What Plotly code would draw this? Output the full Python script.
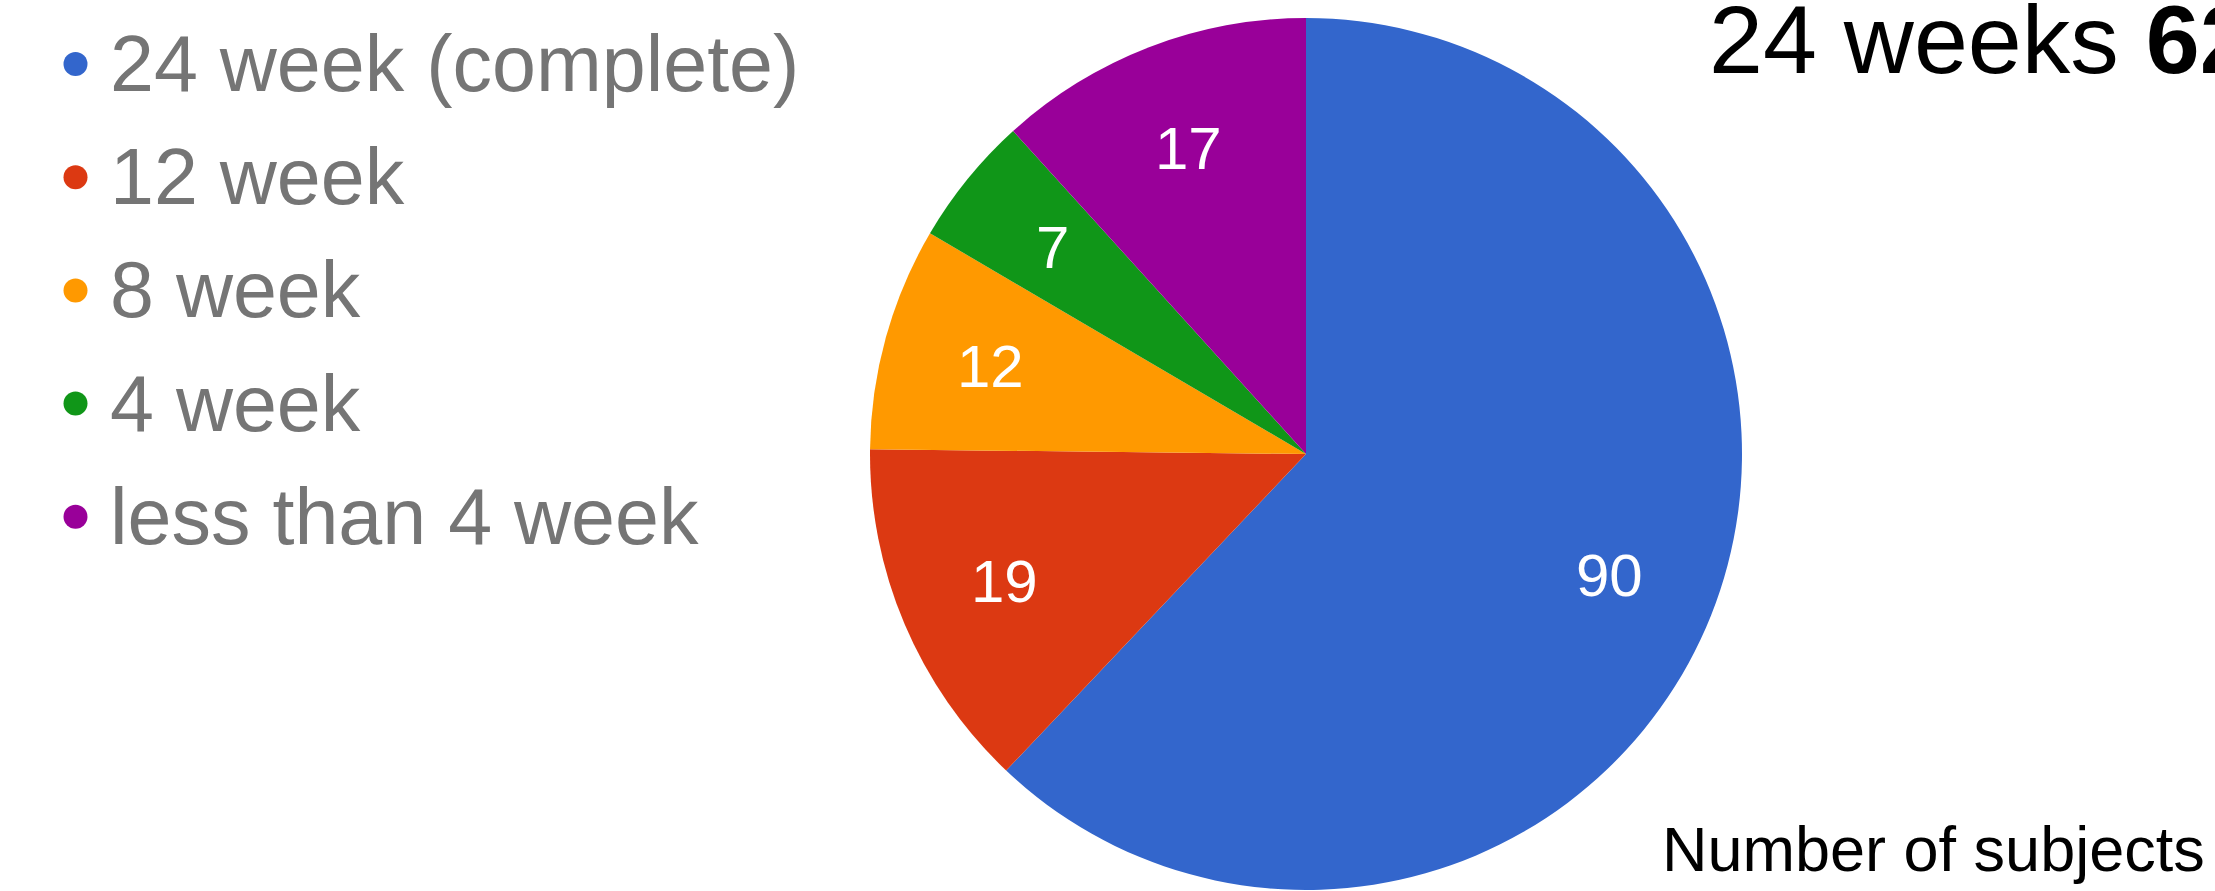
import math
import plotly.graph_objects as go

# Completion status of study subjects
labels = ["24 week (complete)", "12 week", "8 week", "4 week", "less than 4 week"]
counts = [90, 19, 12, 7, 17]
colors = ["#3366CC", "#DC3912", "#FF9900", "#109618", "#990099"]

W, H = 2215, 891
FONT = "Arial, 'Liberation Sans', sans-serif"


def px_x(x):
    return x / W


def px_y(y):
    return 1 - y / H


total = sum(counts)
share_complete = round(100 * counts[0] / total)

fig = go.Figure()

# Pie, clockwise from 12 o'clock, centred at (1306, 454) px with a 436 px radius
cx, cy, r = 1306, 454, 436
fig.add_trace(go.Pie(
    labels=labels,
    values=counts,
    sort=False,
    direction="clockwise",
    rotation=0,
    marker=dict(colors=colors, line=dict(width=0)),
    textinfo="none",
    showlegend=False,
    hoverinfo="label+value+percent",
    domain=dict(x=[px_x(cx - r), px_x(cx + r)], y=[px_y(cy + r), px_y(cy - r)]),
))

annotations = []
shapes = []

# Slice values, placed at each slice's mid-angle, 3/4 of the way out
start = 0.0
for v in counts:
    mid = (start + v / 2) / total * 2 * math.pi
    start += v
    lx = cx + 0.75 * r * math.sin(mid)
    ly = cy - 0.75 * r * math.cos(mid)
    annotations.append(dict(
        text=str(v), xref="paper", yref="paper",
        x=px_x(lx), y=px_y(ly),
        xanchor="center", yanchor="middle", showarrow=False,
        font=dict(family=FONT, size=60, color="white"),
    ))

# Legend: coloured dots and grey labels
row0_mid, row_step = 63.5, 113.2
for i, (lab, col) in enumerate(zip(labels, colors)):
    ymid = row0_mid + i * row_step
    shapes.append(dict(
        type="circle", xref="paper", yref="paper",
        xsizemode="pixel", ysizemode="pixel",
        xanchor=px_x(75.5), yanchor=px_y(ymid + 0.5),
        x0=-12, x1=12, y0=-12, y1=12,
        fillcolor=col, line=dict(width=0),
    ))
    annotations.append(dict(
        text=lab, xref="paper", yref="paper",
        x=px_x(108), y=px_y(ymid),
        xanchor="left", yanchor="middle", showarrow=False,
        font=dict(family=FONT, size=79, color="#757575"),
    ))

# Headline (runs off the right edge of the page)
annotations.append(dict(
    text=f"24 weeks <b>{share_complete}%</b>", xref="paper", yref="paper",
    x=px_x(1707), y=px_y(73 - 0.3465 * 97),
    xanchor="left", yanchor="middle", showarrow=False,
    font=dict(family=FONT, size=97, color="black"),
))

# Caption
annotations.append(dict(
    text="Number of subjects", xref="paper", yref="paper",
    x=px_x(1660), y=px_y(871 - 0.3465 * 63),
    xanchor="left", yanchor="middle", showarrow=False,
    font=dict(family=FONT, size=63, color="black"),
))

fig.update_layout(
    width=W, height=H,
    margin=dict(l=0, r=0, t=0, b=0),
    paper_bgcolor="white",
    plot_bgcolor="white",
    annotations=annotations,
    shapes=shapes,
    showlegend=False,
)

fig.write_html("out.html")
